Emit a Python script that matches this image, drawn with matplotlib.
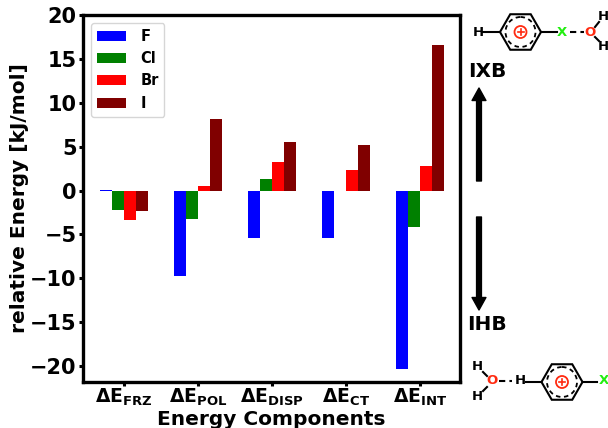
import numpy as np
import matplotlib
matplotlib.use('Agg')
import matplotlib.pyplot as plt
from matplotlib.patches import Polygon, Circle

plt.rcParams['mathtext.fontset'] = 'dejavusans'
plt.rcParams['mathtext.default'] = 'bf'

components = ['FRZ', 'POL', 'DISP', 'CT', 'INT']
f_vals = [0.1, -9.7, -5.4, -5.4, -20.3]
cl_vals = [-2.2, -3.2, 1.3, 0.0, -4.2]
br_vals = [-3.4, 0.5, 3.3, 2.4, 2.8]
i_vals = [-2.3, 8.2, 5.5, 5.2, 16.6]
names = ['F', 'Cl', 'Br', 'I']
colors = ['blue', 'green', 'red', 'maroon']

W, H = 608, 428
fig = plt.figure(figsize=(6.08, 4.28), dpi=100)
ax = fig.add_axes([83 / W, 1 - 382 / H, (460 - 83) / W, (382 - 15) / H])

x = np.arange(len(components))
width = 0.165
for k, vals in enumerate([f_vals, cl_vals, br_vals, i_vals]):
    ax.bar(x + (k - 1.5) * width, vals, width, color=colors[k], label=names[k])

ax.set_xlim(-0.554, 4.54)
ax.set_ylim(-21.8, 20)
ax.set_xticks(x)
ax.set_xticklabels([r'$\mathbf{\Delta E_{%s}}$' % c for c in components], fontsize=13.5)
ax.set_yticks(np.arange(-20, 21, 5))
for lab in ax.get_yticklabels():
    lab.set_fontsize(15)
    lab.set_fontweight('bold')
ax.tick_params(axis='y', width=2.2, length=3, pad=1.5)
ax.tick_params(axis='x', width=2.2, length=3, pad=0.5)
for s in ax.spines.values():
    s.set_linewidth(2.4)
ax.set_xlabel('Energy Components', fontsize=14.5, fontweight='bold', labelpad=1)
ax.set_ylabel('relative Energy [kJ/mol]', fontsize=14.5, fontweight='bold', labelpad=0.6)
ax.legend(loc='upper left', prop={'weight': 'bold', 'size': 10.5}, labelspacing=0.5,
          handletextpad=0.95, bbox_to_anchor=(0.003, 0.998))

# schematic overlay in pixel coordinates
ov = fig.add_axes([0, 0, 1, 1], facecolor='none')
ov.set_xlim(0, W)
ov.set_ylim(H, 0)
ov.axis('off')


def atom(px, py, s, col='black', size=9.5):
    ov.text(px, py, s, color=col, fontsize=size, fontweight='bold', ha='center', va='center')


def ring(cx, cy):
    ang = np.radians(np.arange(0, 360, 60))
    ov.add_patch(Polygon(np.c_[cx + 20.5 * np.cos(ang), cy + 20.5 * np.sin(ang)],
                         closed=True, fill=False, ec='black', lw=1.5))
    ov.add_patch(Circle((cx, cy), 15, fill=False, ec='black', lw=1.3, ls=(0, (2.5, 2))))
    ov.add_patch(Circle((cx, cy), 6, fill=False, ec='#ff2a10', lw=1.3))
    ov.plot([cx - 3, cx + 3], [cy, cy], color='#ff2a10', lw=1.2)
    ov.plot([cx, cx], [cy - 3, cy + 3], color='#ff2a10', lw=1.2)


# top molecule
ring(520.5, 32)
atom(478, 32, 'H')
ov.plot([483, 500], [32, 32], color='black', lw=1.5)
ov.plot([541, 557], [32, 32], color='black', lw=1.5)
atom(562, 32, 'X', '#22ee11')
ov.plot([570, 584], [32, 32], color='black', lw=1.5, ls=(0, (3, 2)))
atom(590, 32, 'O', '#ff2a10')
atom(603, 16, 'H')
atom(603, 46, 'H')
ov.plot([595, 599], [27, 22], color='black', lw=1.5)
ov.plot([595, 599], [37, 41], color='black', lw=1.5)

# bottom molecule
ring(562, 382)
atom(520, 381, 'H')
ov.plot([526, 541], [382, 382], color='black', lw=1.5)
ov.plot([583, 597], [382, 382], color='black', lw=1.5)
atom(604, 381, 'X', '#22ee11')
ov.plot([499, 512], [381, 381], color='black', lw=1.5, ls=(0, (3, 2)))
atom(492, 381, 'O', '#ff2a10')
atom(477, 366, 'H')
atom(477, 396, 'H')
ov.plot([483, 487], [372, 376], color='black', lw=1.5)
ov.plot([483, 487], [391, 387], color='black', lw=1.5)

ov.text(487, 71, 'IXB', fontsize=14.5, fontweight='bold', ha='center', va='center')
ov.text(487, 324, 'IHB', fontsize=14.5, fontweight='bold', ha='center', va='center')
for y0, y1 in [(181, 88), (217, 310)]:
    ov.annotate('', xy=(479, y1), xytext=(479, y0),
                arrowprops=dict(width=3.5, headwidth=10, headlength=9, color='black', shrink=0))

fig.savefig('out.png', dpi=100)
